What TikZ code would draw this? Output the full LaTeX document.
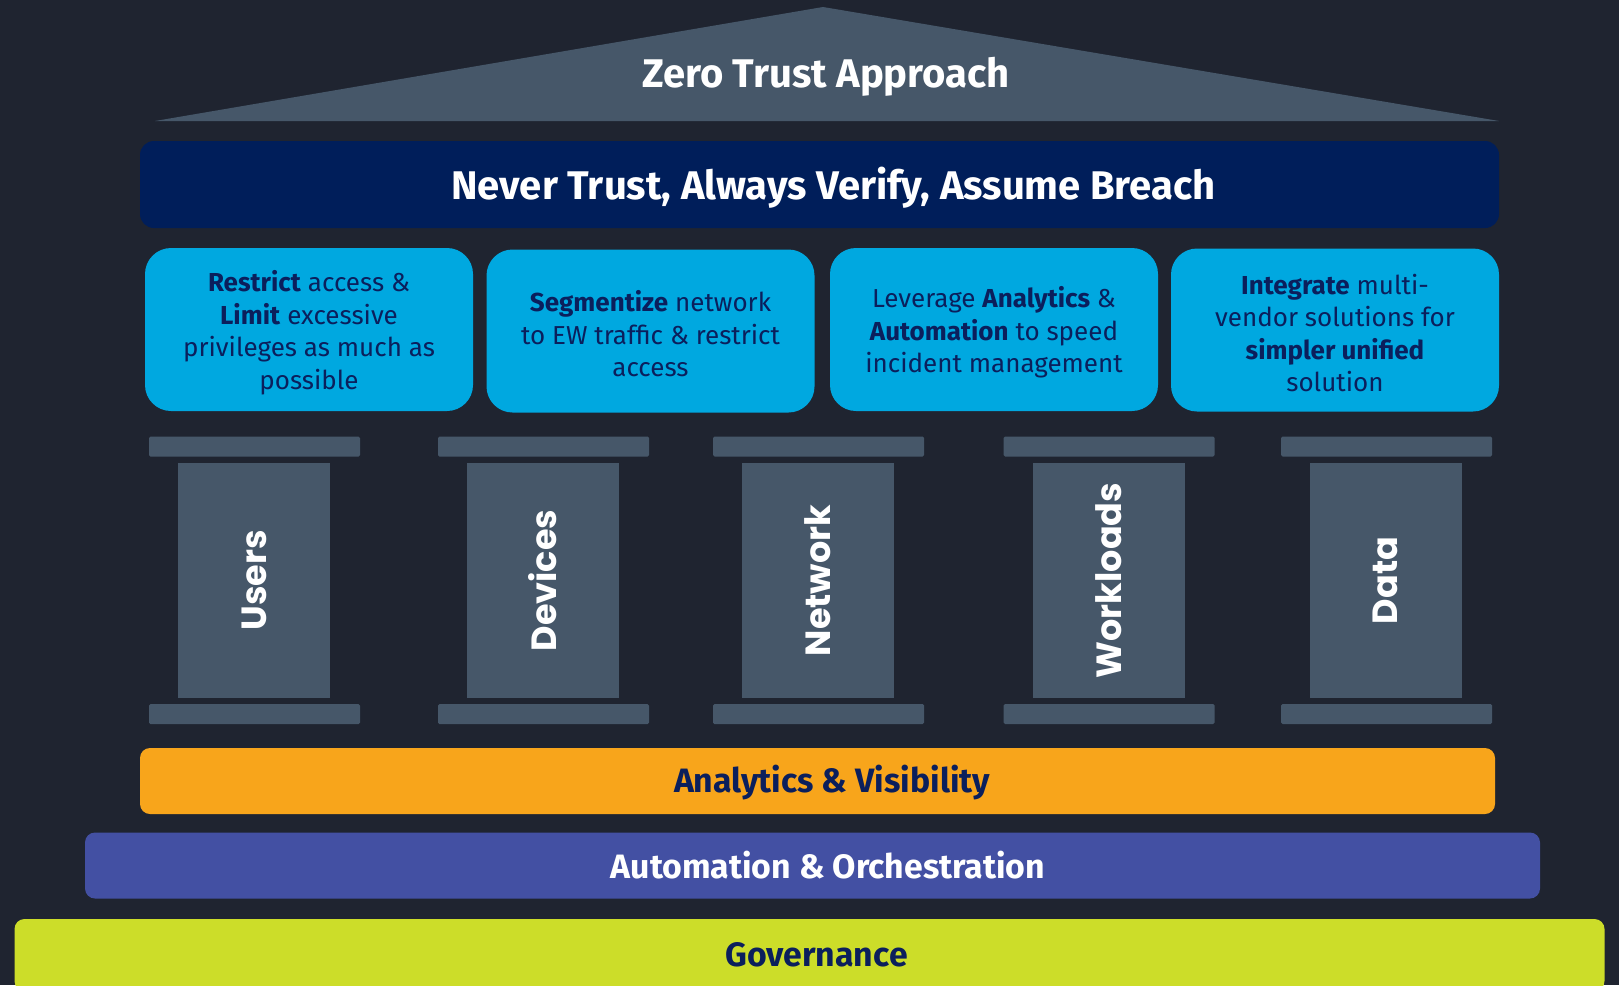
\documentclass[tikz,border=0pt]{standalone}
\usepackage{fontspec}
\setmainfont{Fira Sans}
\newfontfamily\pillarfont{Poppins}

\definecolor{ztBg}{HTML}{1F2430}
\definecolor{ztSlate}{HTML}{465769}
\definecolor{ztNavy}{HTML}{001E5A}
\definecolor{ztSky}{HTML}{00A8E0}
\definecolor{ztInk}{HTML}{0B1F5C}
\definecolor{ztAmber}{HTML}{F8A51B}
\definecolor{ztViolet}{HTML}{4350A3}
\definecolor{ztLime}{HTML}{CCDD29}

\tikzset{
  capstone/.style={fill=ztSlate, minimum width=211pt, minimum height=20pt, inner sep=0pt, rounded corners=1.5pt},
  shaft/.style={fill=ztSlate, rotate=90, minimum width=235pt, minimum height=152pt, inner sep=0pt,
    text=white, font=\pillarfont\bfseries\fontsize{35}{38}\selectfont},
  principle/.style={fill=ztSky, minimum width=328pt, minimum height=163pt, rounded corners=26pt, inner sep=0pt},
  principletext/.style={align=center, text=ztInk, inner sep=0pt, font=\fontsize{26}{32.5}\selectfont},
  layer/.style={minimum height=66pt, rounded corners=10pt, inner sep=0pt},
  layertext/.style={inner sep=0pt, font=\bfseries\fontsize{33.8}{36}\selectfont}
}

\begin{document}
\begin{tikzpicture}[x=1pt,y=-1pt]
                \useasboundingbox (0,0) rectangle (1619,985);
                \fill[ztBg] (0,0) rectangle (1619,985);

                % roof
                \fill[ztSlate] (155,121) -- (823,7) -- (1499,121) -- cycle;
                \node[text=white, font=\bfseries\fontsize{40}{44}\selectfont] (roof) at (826,77) {Zero Trust Approach};

                \node[fill=ztNavy, minimum width=1359pt, minimum height=87pt, rounded corners=14pt] (motto) at (819.5,184.5) {};
                \node[text=white, inner sep=0pt, font=\bfseries\fontsize{40}{44}\selectfont] (motto-text)
                  at ([xshift=14pt,yshift=-3pt]motto.center) {Never Trust, Always Verify, Assume Breach};

                % 4 principi
                \node[principle] (restrict) at (309,329.5) {};
                \node[principletext] (restrict-text) at ([yshift=-3pt]restrict.center) {\textbf{Restrict} access \&\\\textbf{Limit} excessive\\privileges as much as\\possible};
                \node[principle] (segment) at (650.5,331) {};
                \node[principletext] (segment-text) at ([yshift=-3pt]segment.center) {\textbf{Segmentize} network\\to EW traffic \& restrict\\access};
                \node[principle] (leverage) at (994,329.5) {};
                \node[principletext] (leverage-text) at ([yshift=-3pt]leverage.center) {Leverage \textbf{Analytics} \&\\\textbf{Automation} to speed\\incident management};
                \node[principle] (integrate) at (1335,330) {};
                \node[principletext] (integrate-text) at ([yshift=-3pt]integrate.center) {\textbf{Integrate} multi-\\vendor solutions for\\\textbf{simpler unified}\\solution};

                % 5 pilastri
                \node[capstone] (users-top) at (254.5,446.5) {};
                \node[shaft] (users) at (254,580.5) {Users};
                \node[capstone] (users-base) at (254.5,714) {};

                \node[capstone] (devices-top) at (543.5,446.5) {};
                \node[shaft] (devices) at (543,580.5) {Devices};
                \node[capstone] (devices-base) at (543.5,714) {};

                \node[capstone] (network-top) at (818.5,446.5) {};
                \node[shaft] (network) at (818,580.5) {Network};
                \node[capstone] (network-base) at (818.5,714) {};

                \node[capstone] (workloads-top) at (1109,446.5) {};
                \node[shaft] (workloads) at (1108.5,580.5) {Workloads};
                \node[capstone] (workloads-base) at (1109,714) {};

                \node[capstone] (data-top) at (1386.5,446.5) {};
                \node[shaft] (data) at (1385.5,580.5) {Data};
                \node[capstone] (data-base) at (1386.5,714) {};

                % fondamenta
                \node[layer, fill=ztAmber, minimum width=1355pt] (analytics) at (817.5,781) {};
                \node[layertext, text=ztInk] (analytics-text) at ([xshift=14.5pt,yshift=-2pt]analytics.center) {Analytics \& Visibility};
                \node[layer, fill=ztViolet, minimum width=1455pt] (automation) at (812.5,865.5) {};
                \node[layertext, text=white] (automation-text) at ([xshift=15.5pt]automation.center) {Automation \& Orchestration};
                \node[layer, fill=ztLime, minimum width=1590pt, minimum height=72pt] (governance) at (809.5,955) {};
                \node[layertext, text=ztInk] (governance-text) at ([xshift=7pt]governance.center) {Governance};

            \end{tikzpicture}
\end{document}
